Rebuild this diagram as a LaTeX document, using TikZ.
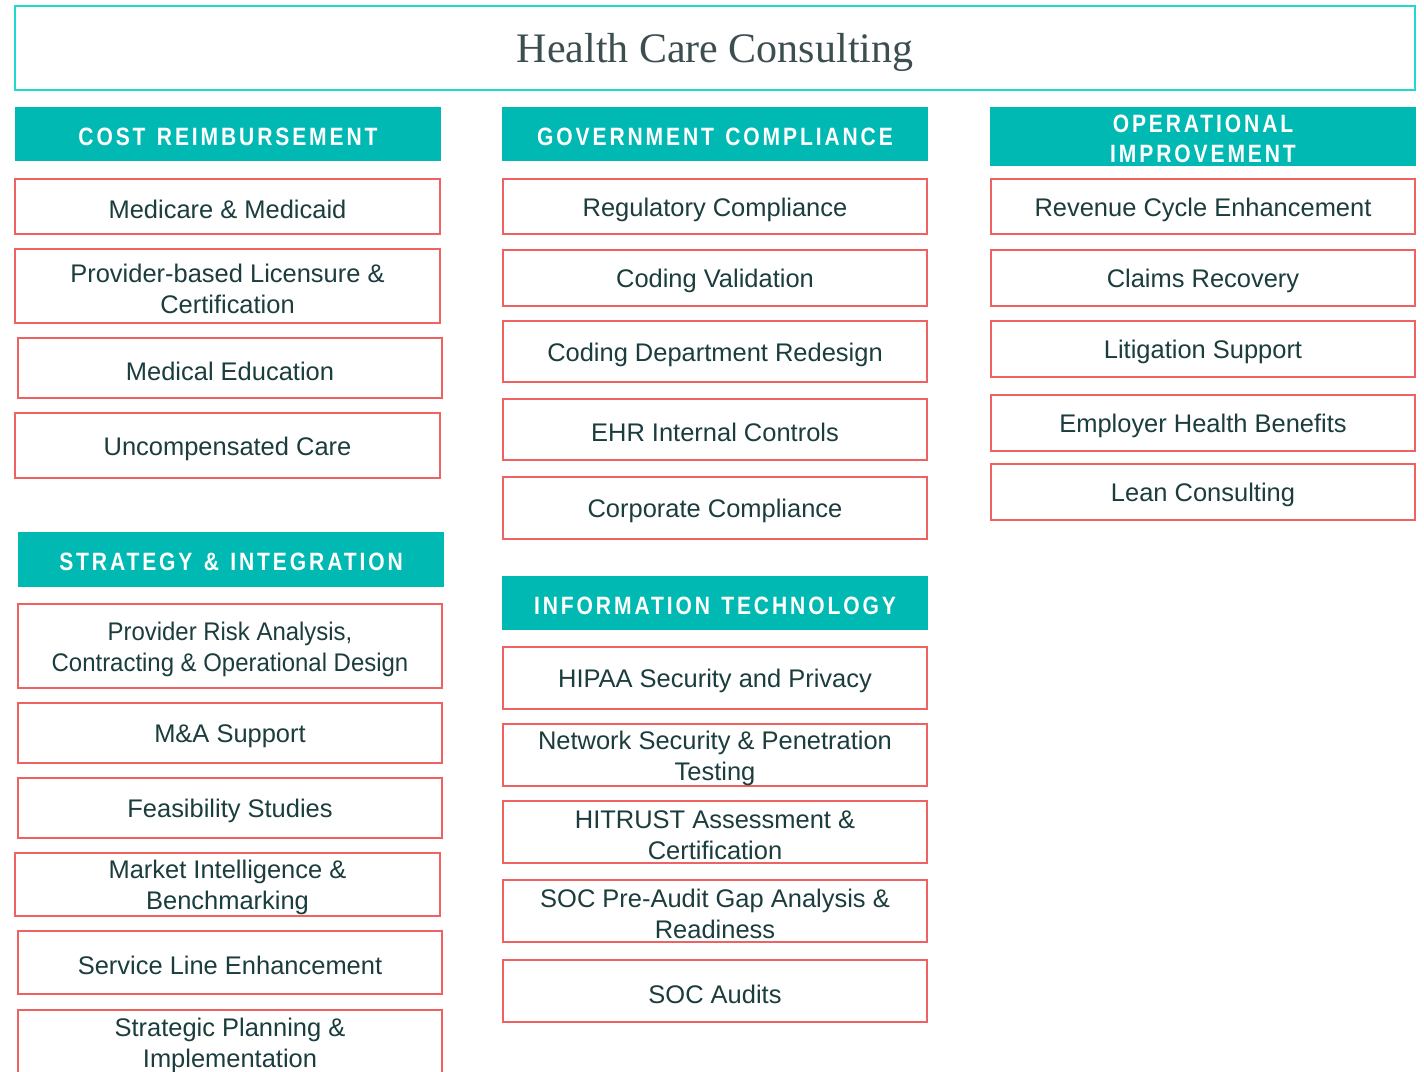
\documentclass[tikz,border=0pt]{standalone}
\usepackage{fontspec}
\setmainfont{Liberation Sans}
\newfontfamily\titlefont{Liberation Serif}
\newfontfamily\headfont[FakeStretch=0.84,LetterSpace=11.5,WordSpace=1.3]{Liberation Sans Bold}
\newfontfamily\narrowfont[FakeStretch=0.94]{Liberation Sans}
\definecolor{teal}{HTML}{00B9B3}
\definecolor{aqua}{HTML}{1DD9D2}
\definecolor{coral}{HTML}{F06262}
\definecolor{ink}{HTML}{1C3D3D}
\definecolor{titleink}{HTML}{3C4E4F}
\tikzset{
  item/.style={draw=coral, line width=2.2pt*0.75, fill=white, inner sep=0pt},
  itemtext/.style={text=ink, align=center, inner sep=0pt, yshift=-2.2pt,
    font=\fontsize{19.1pt}{23.25pt}\selectfont},
  header/.style={fill=teal, inner sep=0pt},
  headertext/.style={text=white, align=center, inner sep=0pt, yshift=-2pt,
    font=\headfont\fontsize{18.8pt}{22.5pt}\selectfont},
  titlebox/.style={draw=aqua, line width=2.6pt*0.75, inner sep=0pt},
  titleboxtext/.style={text=titleink, inner sep=0pt, yshift=-3pt,
    font=\titlefont\fontsize{31.5pt}{36pt}\selectfont}
}
% box given by its pixel corners: name, x1, y1, x2, y2, style, text
\newcommand\pbox[7]{%
  \node[#6, minimum width={(#4-#2)*0.75pt}, minimum height={(#5-#3)*0.75pt}]
    (#1) at ({(#2+#4)/2},{(#3+#5)/2}) {};
  \node[#6text] (#1-text) at (#1.center) {#7};}
\begin{document}
\begin{tikzpicture}[x=0.75pt,y=-0.75pt]
\useasboundingbox (0,0) rectangle (1424,1071);
\clip (0,0) rectangle (1424,1071);
\fill[white] (0,0) rectangle (1424,1071);

\pbox{title}{15}{6}{1415}{90}{titlebox}{Health Care Consulting}

% cost reimbursement
\pbox{hcost}{15}{107}{441}{161}{header}{COST REIMBURSEMENT}
\pbox{c1}{15}{179}{440}{234}{item}{Medicare \& Medicaid}
\pbox{c2}{15}{249}{440}{323}{item}{Provider-based Licensure \&\\Certification}
\pbox{c3}{18}{338}{442}{398}{item}{Medical Education}
\pbox{c4}{15}{413}{440}{478}{item}{Uncompensated Care}

% strategy & integration
\pbox{hstrat}{18}{532}{444}{587}{header}{STRATEGY \& INTEGRATION}
\pbox{s1}{18}{604}{442}{688}{item}{\narrowfont Provider Risk Analysis,\\\narrowfont Contracting \& Operational Design}
\pbox{s2}{18}{703}{442}{763}{item}{M\&A Support}
\pbox{s3}{18}{778}{442}{838}{item}{Feasibility Studies}
\pbox{s4}{15}{853}{440}{916}{item}{Market Intelligence \&\\Benchmarking}
\pbox{s5}{18}{931}{442}{994}{item}{Service Line Enhancement}
\pbox{s6}{18}{1010}{442}{1074}{item}{Strategic Planning \&\\Implementation}

% government compliance
\pbox{hgov}{502}{107}{928}{161}{header}{GOVERNMENT COMPLIANCE}
\pbox{g1}{503}{179}{927}{234}{item}{Regulatory Compliance}
\pbox{g2}{503}{250}{927}{306}{item}{Coding Validation}
\pbox{g3}{503}{321}{927}{382}{item}{Coding Department Redesign}
\pbox{g4}{503}{399}{927}{460}{item}{EHR Internal Controls}
\pbox{g5}{503}{477}{927}{539}{item}{Corporate Compliance}

% information technology
\pbox{hit}{502}{576}{928}{630}{header}{INFORMATION TECHNOLOGY}
\pbox{t1}{503}{647}{927}{709}{item}{HIPAA Security and Privacy}
\pbox{t2}{503}{724}{927}{786}{item}{Network Security \& Penetration\\Testing}
\pbox{t3}{503}{801}{927}{863}{item}{HITRUST Assessment \&\\Certification}
\pbox{t4}{503}{880}{927}{942}{item}{SOC Pre-Audit Gap Analysis \&\\Readiness}
\pbox{t5}{503}{960}{927}{1022}{item}{SOC Audits}

% operational improvement
\pbox{hop}{990}{107}{1416}{166}{header}{OPERATIONAL\\IMPROVEMENT}
\pbox{o1}{991}{179}{1415}{234}{item}{Revenue Cycle Enhancement}
\pbox{o2}{991}{250}{1415}{306}{item}{Claims Recovery}
\pbox{o3}{991}{321}{1415}{377}{item}{Litigation Support}
\pbox{o4}{991}{395}{1415}{451}{item}{Employer Health Benefits}
\pbox{o5}{991}{464}{1415}{520}{item}{Lean Consulting}
\end{tikzpicture}
\end{document}
